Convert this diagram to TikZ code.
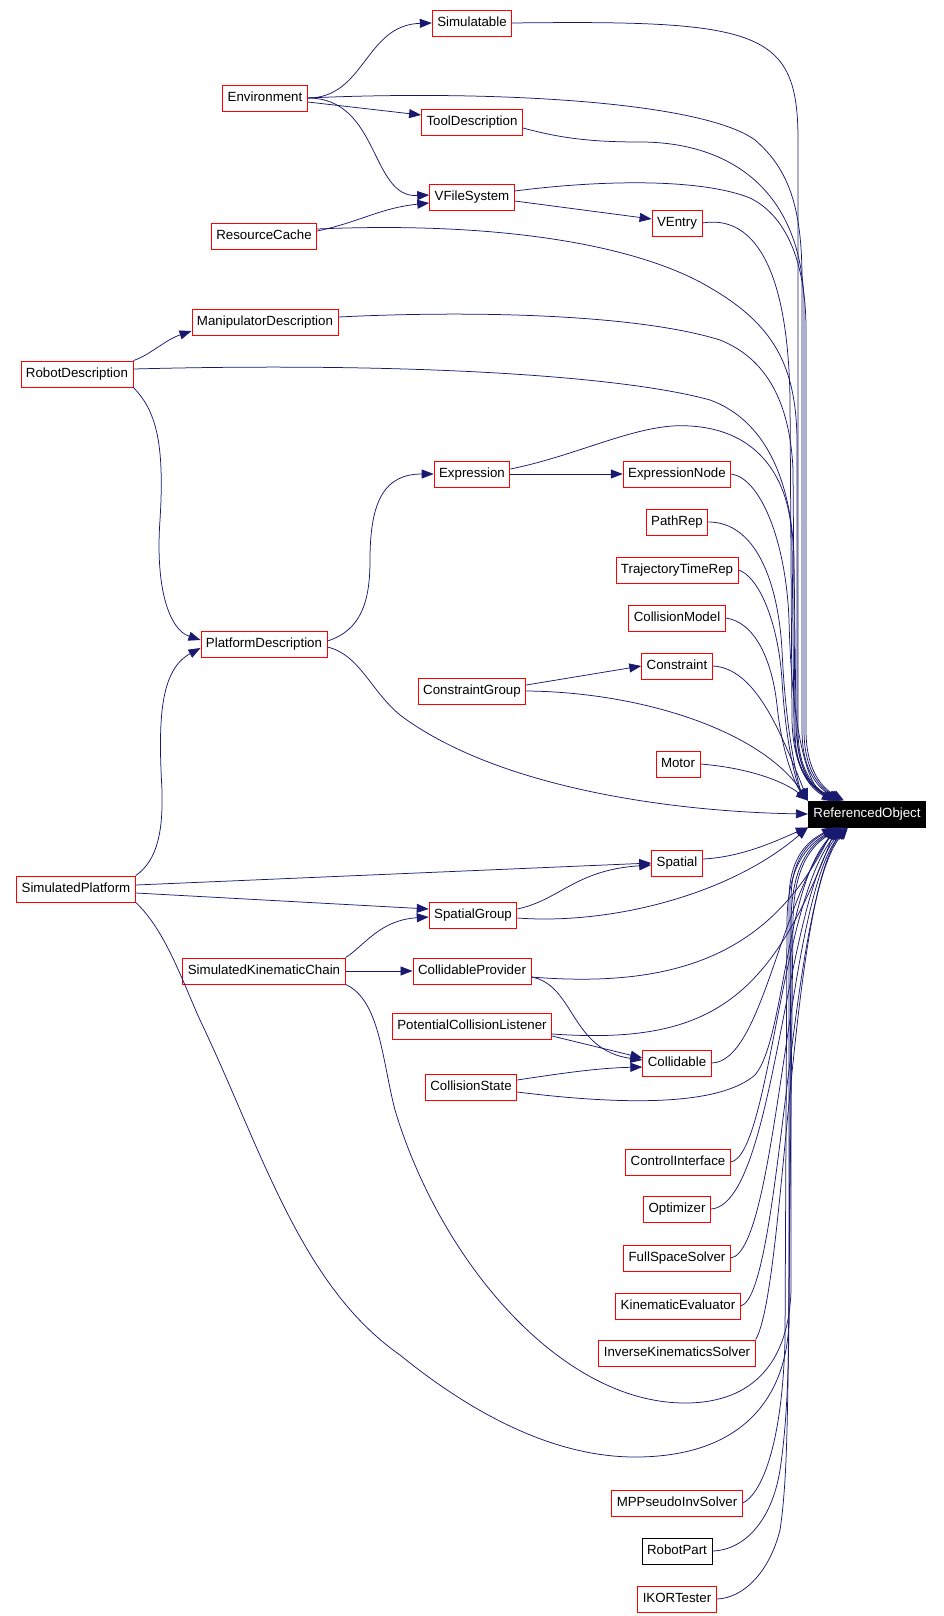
\documentclass[tikz,border=0pt]{standalone}
\usepackage{fontspec}
\setmainfont{Liberation Sans}
\usetikzlibrary{arrows.meta}
\definecolor{edgeblue}{RGB}{25,25,112}

\begin{document}
\begin{tikzpicture}[x=1pt,y=-1pt,
    cls/.style={draw=red, line width=0.9pt, fill=white, font=\fontsize{13.3}{15}\selectfont,
        inner xsep=5pt, inner ysep=0pt, text height=9.6pt, text depth=2.7pt, minimum height=26pt},
    inh/.style={draw=edgeblue, line width=0.75pt, -{Triangle[length=12pt,width=9pt]}}]
    \useasboundingbox (0,0) rectangle (944,1616);

    %classes
    \node[cls] (sim) at (472,23) {Simulatable};
    \node[cls] (env) at (265,98) {Environment};
    \node[cls] (tool) at (472,122) {ToolDescription};
    \node[cls] (vfs) at (472,197) {VFileSystem};
    \node[cls] (ventry) at (677,223) {VEntry};
    \node[cls] (rcache) at (264,236) {ResourceCache};
    \node[cls] (manip) at (265,322) {ManipulatorDescription};
    \node[cls] (robdesc) at (77,374) {RobotDescription};
    \node[cls] (expr) at (472,474) {Expression};
    \node[cls] (exprnode) at (677,474) {ExpressionNode};
    \node[cls] (pathrep) at (677,522) {PathRep};
    \node[cls] (trajrep) at (677,570) {TrajectoryTimeRep};
    \node[cls] (colmodel) at (677,618) {CollisionModel};
    \node[cls] (platdesc) at (264,644) {PlatformDescription};
    \node[cls] (constr) at (677,666) {Constraint};
    \node[cls] (constrgrp) at (472,691) {ConstraintGroup};
    \node[cls] (motor) at (678,764) {Motor};
    \node[cls, draw=black, fill=black, text=white] (ro) at (867,814) {ReferencedObject};
    \node[cls] (spatial) at (677,863) {Spatial};
    \node[cls] (simplat) at (76,889) {SimulatedPlatform};
    \node[cls] (spgroup) at (473,915) {SpatialGroup};
    \node[cls] (simkin) at (264,971) {SimulatedKinematicChain};
    \node[cls] (colprov) at (472,971) {CollidableProvider};
    \node[cls] (pcl) at (472,1026) {PotentialCollisionListener};
    \node[cls] (collid) at (677,1063) {Collidable};
    \node[cls] (colstate) at (471,1087) {CollisionState};
    \node[cls] (ctrl) at (678,1162) {ControlInterface};
    \node[cls] (optim) at (677,1209) {Optimizer};
    \node[cls] (fss) at (677,1258) {FullSpaceSolver};
    \node[cls] (kineval) at (678,1306) {KinematicEvaluator};
    \node[cls] (iksolver) at (677,1353) {InverseKinematicsSolver};
    \node[cls] (mpp) at (677,1503) {MPPseudoInvSolver};
    \node[cls, draw=black] (robpart) at (677,1551) {RobotPart};
    \node[cls] (ikor) at (677,1599) {IKORTester};

    %inheritance between classes
    \draw[inh] (env.east) .. controls (365,98) and (365,25) .. (sim.west);
    \draw[inh] ([yshift=-4pt]env.east) -- ([yshift=7pt]tool.west);
    \draw[inh] (env.east) .. controls (380,98) and (370,198) .. ([yshift=2pt]vfs.west);
    \draw[inh] ([yshift=5pt]rcache.east) .. controls (360,222) and (380,208) .. ([yshift=-6pt]vfs.west);
    \draw[inh] ([yshift=-4pt]vfs.east) -- ([yshift=4pt]ventry.west);
    \draw[inh] (robdesc.north east) .. controls (150,355) and (165,340) .. ([yshift=-9pt]manip.west);
    \draw[inh] (robdesc.south east) .. controls (155,410) and (165,440) .. (160,520) .. controls (155,590) and (170,630) .. ([yshift=4pt]platdesc.west);
    \draw[inh] (simplat.north east) .. controls (158,860) and (163,830) .. (162,790) .. controls (158,720) and (160,670) .. ([yshift=-4pt]platdesc.west);
    \draw[inh] ([yshift=3pt]platdesc.east) .. controls (362,630) and (370,600) .. (370,560) .. controls (370,500) and (385,474) .. (expr.west);
    \draw[inh] (expr.east) -- (exprnode.west);
    \draw[inh] ([yshift=6pt]constrgrp.east) -- (constr.west);
    \draw[inh] ([yshift=4pt]simplat.east) -- (spatial.west);
    \draw[inh] ([yshift=-4pt]simplat.east) -- ([yshift=6pt]spgroup.west);
    \draw[inh] ([yshift=6pt]spgroup.east) .. controls (560,900) and (575,870) .. ([yshift=-2pt]spatial.west);
    \draw[inh] (simkin.north east) .. controls (365,945) and (380,920) .. ([yshift=-2pt]spgroup.west);
    \draw[inh] (simkin.east) -- (colprov.west);
    \draw[inh] ([yshift=-6pt]colprov.east) .. controls (575,985) and (570,1050) .. ([yshift=3pt]collid.west);
    \draw[inh] ([yshift=-10pt]pcl.east) -- ([yshift=5pt]collid.west);
    \draw[inh] ([yshift=7pt]colstate.east) .. controls (570,1072) and (600,1068) .. ([yshift=-4pt]collid.west);

    %to ReferencedObject, from above
    \draw[inh] (sim.east) .. controls (760,20) and (798,30) .. (798,140) -- (798,730) .. controls (798,775) and (818,790) .. ([xshift=30pt]ro.north west);
    \draw[inh] (env.east) .. controls (480,90) and (700,100) .. (755,140) .. controls (790,170) and (802,210) .. (802,280) -- (802,730) .. controls (802,775) and (822,790) .. ([xshift=32pt]ro.north west);
    \draw[inh] ([yshift=-6pt]tool.east) .. controls (560,138) and (590,142) .. (640,142) .. controls (730,142) and (800,190) .. (804,300) -- (804,730) .. controls (804,775) and (824,790) .. ([xshift=34pt]ro.north west);
    \draw[inh] ([yshift=6pt]vfs.east) .. controls (600,180) and (700,178) .. (750,198) .. controls (785,215) and (806,260) .. (806,330) -- (806,730) .. controls (806,775) and (826,790) .. ([xshift=36pt]ro.north west);
    \draw[inh] (ventry.east) .. controls (750,215) and (788,260) .. (790,400) -- (792,720) .. controls (793,770) and (812,790) .. ([xshift=26pt]ro.north west);
    \draw[inh] ([yshift=7pt]rcache.east) .. controls (480,222) and (620,240) .. (700,282) .. controls (770,320) and (796,360) .. (797,440) -- (797,730) .. controls (797,775) and (816,790) .. ([xshift=28pt]ro.north west);
    \draw[inh] ([yshift=5pt]manip.east) .. controls (480,310) and (640,315) .. (720,340) .. controls (765,358) and (790,400) .. (793,470) -- (795,730) .. controls (795,775) and (814,790) .. ([xshift=30pt]ro.north west);
    \draw[inh] ([yshift=5pt]robdesc.east) .. controls (400,362) and (620,375) .. (710,400) .. controls (765,420) and (792,480) .. (794,560) -- (796,720) .. controls (796,770) and (812,790) .. ([xshift=32pt]ro.north west);
    \draw[inh] ([yshift=5pt]expr.east) .. controls (580,455) and (640,422) .. (690,426) .. controls (760,430) and (790,480) .. (792,540) -- (794,730) .. controls (795,775) and (815,790) .. ([xshift=34pt]ro.north west);
    \draw[inh] (exprnode.east) .. controls (760,478) and (786,540) .. (789,620) .. controls (792,740) and (810,790) .. ([xshift=28pt]ro.north west);
    \draw[inh] (pathrep.east) .. controls (755,522) and (778,580) .. (782,650) .. controls (786,740) and (800,790) .. (ro.north west);
    \draw[inh] (trajrep.east) .. controls (758,576) and (778,620) .. (782,680) .. controls (786,750) and (798,788) .. (ro.north west);
    \draw[inh] (colmodel.east) .. controls (755,622) and (772,660) .. (777,705) .. controls (782,755) and (796,786) .. (ro.north west);
    \draw[inh] (constr.east) .. controls (755,668) and (780,730) .. (ro.north west);
    \draw[inh] (constrgrp.east) .. controls (640,692) and (760,730) .. (ro.north west);
    \draw[inh] (motor.east) .. controls (750,768) and (785,782) .. (ro.north west);
    \draw[inh] ([yshift=-3pt]platdesc.east) .. controls (360,655) and (370,690) .. (400,715) .. controls (500,790) and (680,812) .. (ro.west);

    %to ReferencedObject, from below
    \draw[inh] ([yshift=4pt]spatial.east) .. controls (745,857) and (782,838) .. (ro.south west);
    \draw[inh] ([yshift=-3pt]spgroup.east) .. controls (610,925) and (730,895) .. (ro.south west);
    \draw[inh] ([yshift=-6pt]colprov.east) .. controls (690,990) and (775,945) .. ([xshift=26pt]ro.south west);
    \draw[inh] ([yshift=-8pt]pcl.east) .. controls (710,1045) and (770,1000) .. ([xshift=28pt]ro.south west);
    \draw[inh] (collid.east) .. controls (762,1062) and (780,900) .. ([xshift=30pt]ro.south west);
    \draw[inh] ([yshift=-5pt]colstate.east) .. controls (630,1106) and (720,1105) .. (755,1075) .. controls (785,1040) and (785,880) .. ([xshift=32pt]ro.south west);
    \draw[inh] (ctrl.east) .. controls (770,1155) and (780,900) .. ([xshift=34pt]ro.south west);
    \draw[inh] (optim.east) .. controls (775,1205) and (784,900) .. ([xshift=36pt]ro.south west);
    \draw[inh] (fss.east) .. controls (778,1250) and (786,900) .. ([xshift=38pt]ro.south west);
    \draw[inh] (kineval.east) .. controls (782,1295) and (788,900) .. ([xshift=40pt]ro.south west);
    \draw[inh] (iksolver.north east) .. controls (785,1290) and (790,900) .. ([xshift=38pt]ro.south west);
    \draw[inh] (simkin.south east) .. controls (380,1000) and (382,1060) .. (395,1110) .. controls (440,1260) and (560,1403) .. (685,1403) .. controls (755,1403) and (789,1360) .. (791,1290) -- (791,900) .. controls (791,855) and (812,840) .. ([xshift=28pt]ro.south west);
    \draw[inh] (simplat.south east) .. controls (165,930) and (182,980) .. (200,1020) .. controls (262,1150) and (300,1285) .. (400,1355) .. controls (480,1420) and (560,1457) .. (635,1457) .. controls (740,1457) and (787,1400) .. (789,1320) -- (789,900) .. controls (789,855) and (810,840) .. ([xshift=26pt]ro.south west);
    \draw[inh] (mpp.east) .. controls (760,1495) and (782,1450) .. (785,1340) -- (787,920) .. controls (788,860) and (812,842) .. ([xshift=30pt]ro.south west);
    \draw[inh] (robpart.east) .. controls (745,1550) and (772,1520) .. (780,1470) .. controls (786,1430) and (789,1380) .. (789,1300) -- (791,920) .. controls (792,860) and (814,842) .. ([xshift=32pt]ro.south west);
    \draw[inh] (ikor.east) .. controls (745,1598) and (770,1570) .. (780,1530) .. controls (786,1490) and (787,1440) .. (788,1380) -- (793,920) .. controls (794,860) and (816,842) .. ([xshift=34pt]ro.south west);
\end{tikzpicture}
\end{document}
